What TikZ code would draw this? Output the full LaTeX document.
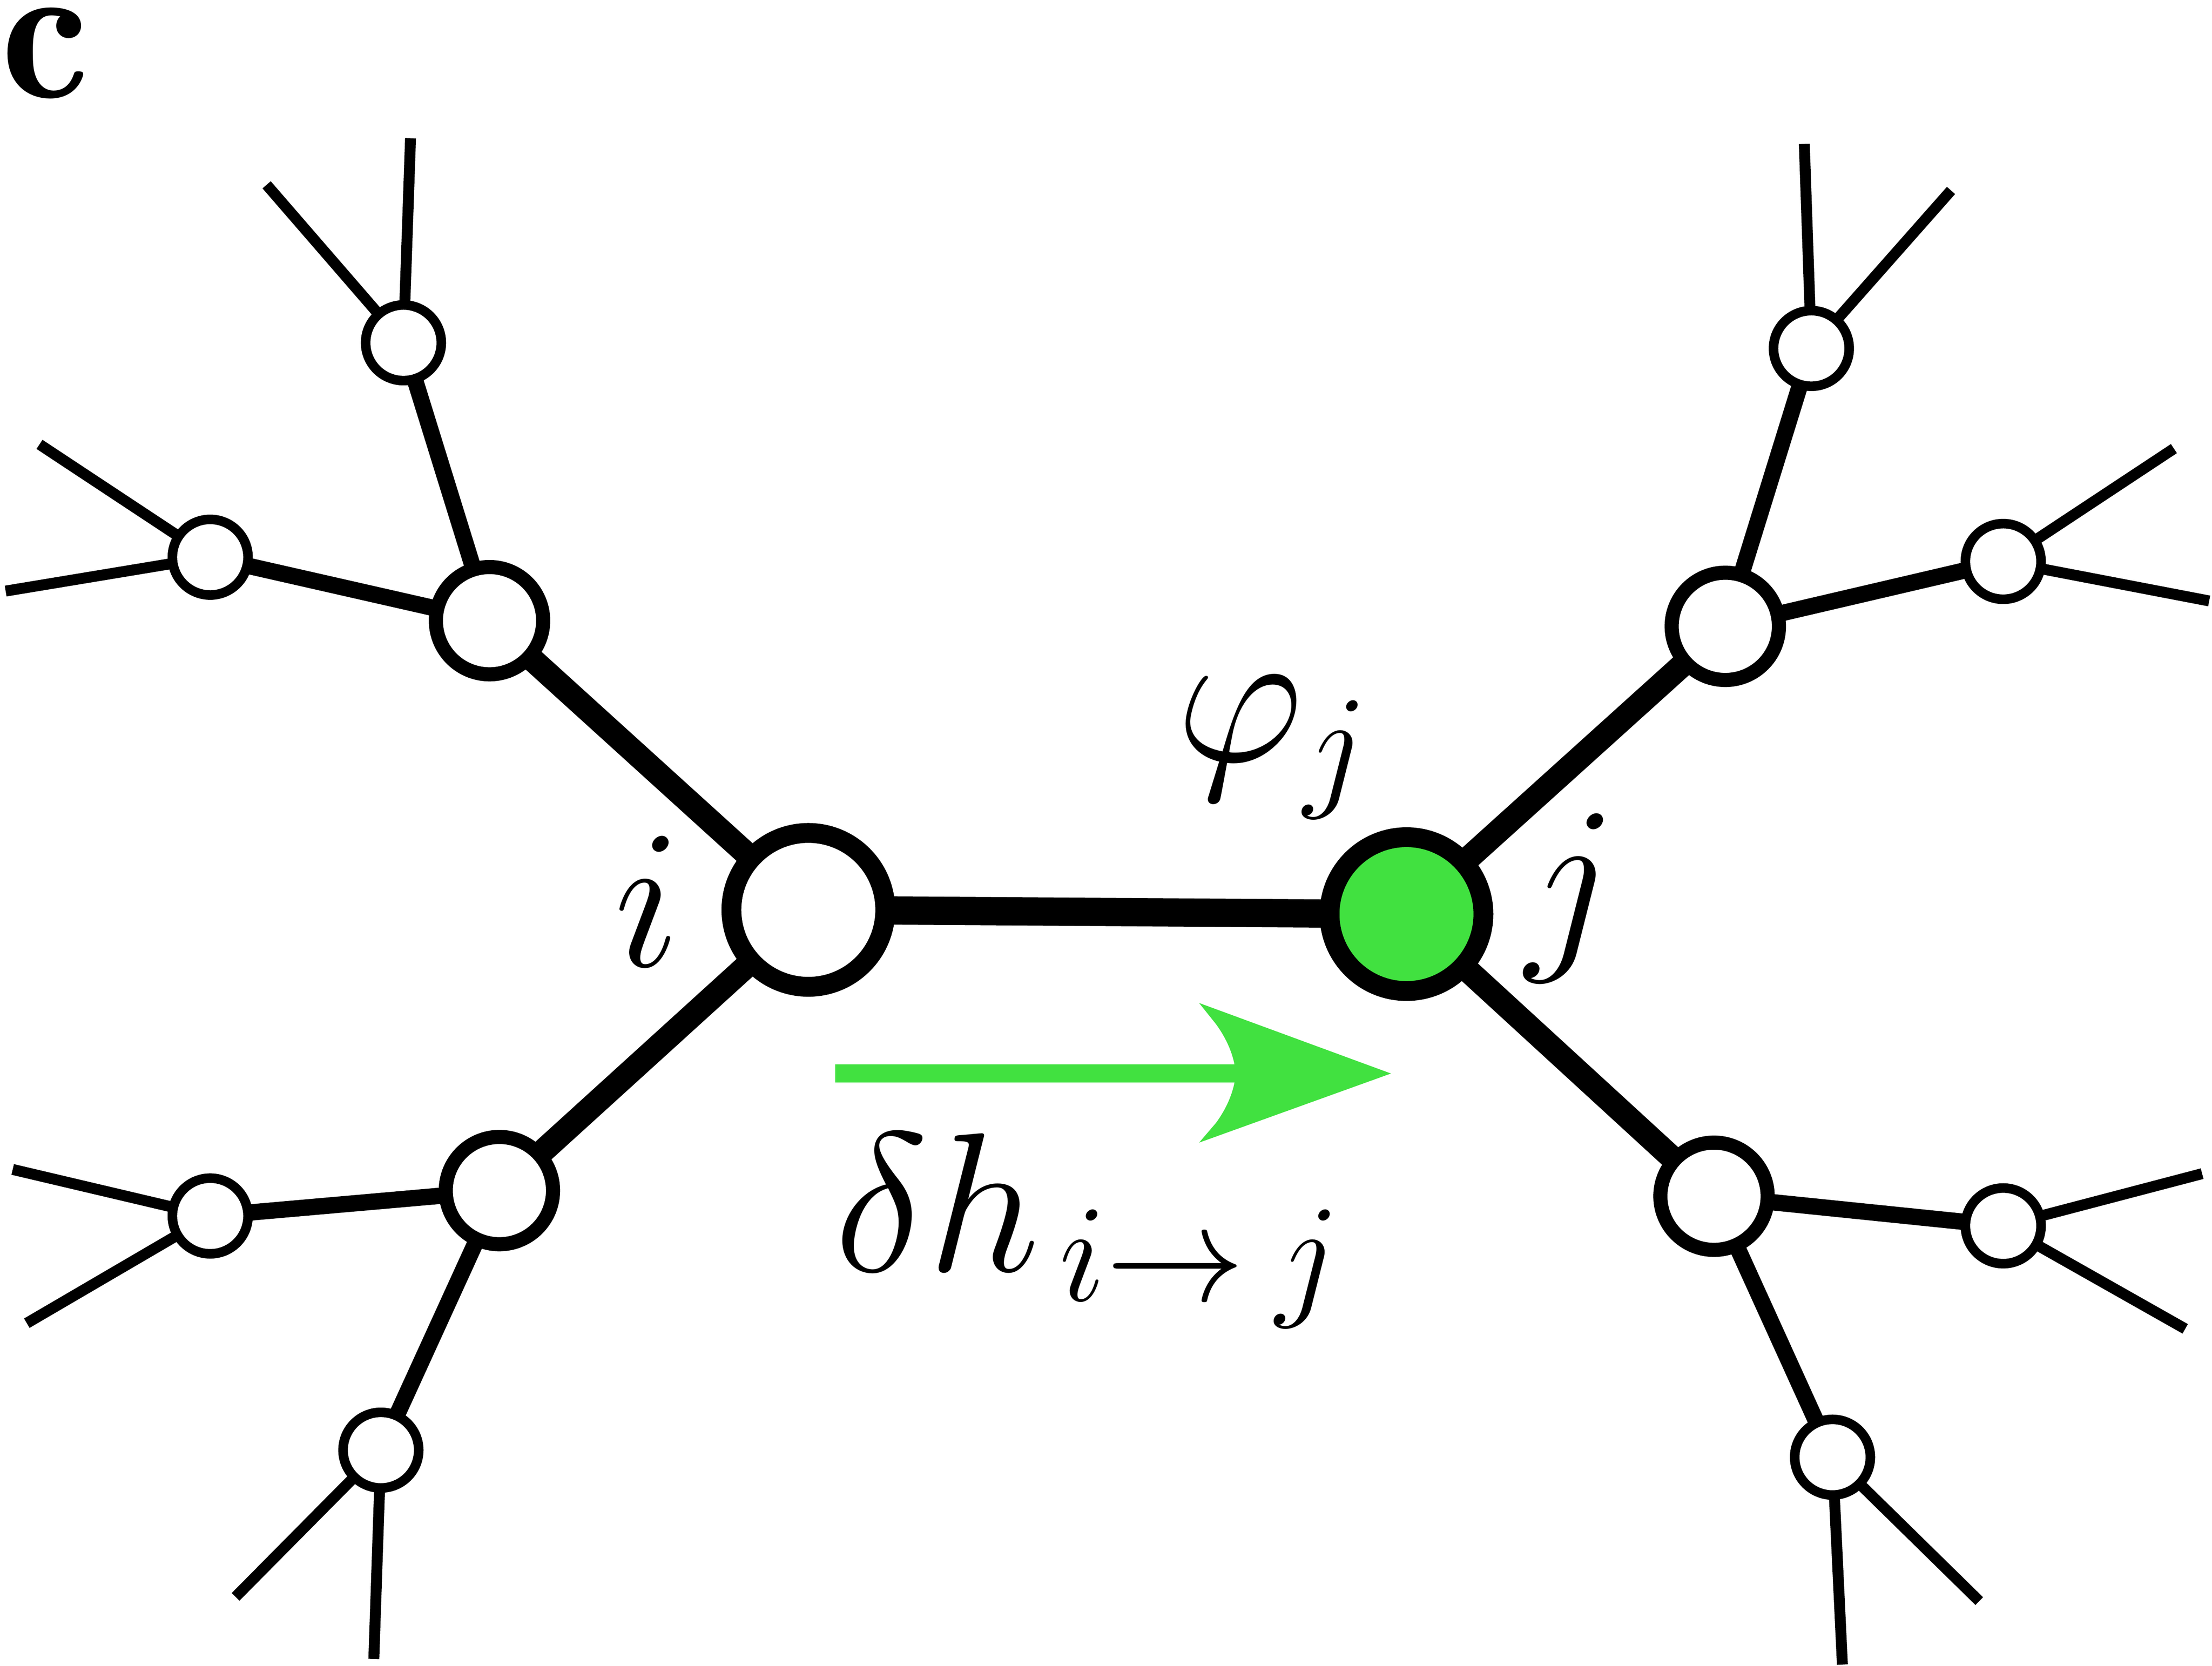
\RequirePackage{fix-cm}
\documentclass[tikz,border=0pt]{standalone}
\usetikzlibrary{backgrounds}

\definecolor{flowgreen}{RGB}{65,225,64}

\tikzset{
  site/.style={circle, draw, line width=4pt, fill=white, minimum size=1.09cm, inner sep=0pt},
  nbr/.style={circle, draw, line width=2.85pt, fill=white, minimum size=0.76cm, inner sep=0pt},
  farsite/.style={circle, draw, line width=1.93pt, fill=white, minimum size=0.536cm, inner sep=0pt},
  bond/.style={line width=5.7pt},
  branch/.style={line width=4.8pt},
  twig/.style={line width=3.3pt},
  leafline/.style={line width=2.2pt},
  lbl/.style={font=\fontsize{40}{48}\selectfont, inner sep=0pt},
}

\begin{document}
\begin{tikzpicture}[x=0.01cm, y=-0.01cm]
        \useasboundingbox (0,0) rectangle (1568,1181);

        \node[site] (i) at (573,645) {};
        \node[site, fill=flowgreen] (j) at (997,648) {};

        \node[nbr] (iu) at (347,440) {};
        \node[nbr] (id) at (354,844) {};
        \node[nbr] (ju) at (1223,444) {};
        \node[nbr] (jd) at (1215,848) {};

        \node[farsite] (iua) at (149,395) {};
        \node[farsite] (iub) at (286,243) {};
        \node[farsite] (ida) at (149,862) {};
        \node[farsite] (idb) at (270,1028) {};
        \node[farsite] (jua) at (1284,247) {};
        \node[farsite] (jub) at (1420,398) {};
        \node[farsite] (jda) at (1420,869) {};
        \node[farsite] (jdb) at (1299,1033) {};

        \coordinate (iua1) at (28,315);   \coordinate (iua2) at (4,419);
        \coordinate (iub1) at (189,131);  \coordinate (iub2) at (291,98);
        \coordinate (ida1) at (9,829);    \coordinate (ida2) at (19,938);
        \coordinate (idb1) at (167,1132); \coordinate (idb2) at (265,1176);
        \coordinate (jua1) at (1279,102); \coordinate (jua2) at (1383,135);
        \coordinate (jub1) at (1541,318); \coordinate (jub2) at (1566,426);
        \coordinate (jda1) at (1561,832); \coordinate (jda2) at (1549,942);
        \coordinate (jdb1) at (1306,1180); \coordinate (jdb2) at (1403,1135);

        \begin{scope}[on background layer]
            \draw[bond] (i.center) -- (j.center);
            \foreach \a/\b in {i/iu, i/id, j/ju, j/jd}
                \draw[branch] (\a.center) -- (\b.center);
            \foreach \a/\b in {iu/iua, iu/iub, id/ida, id/idb, ju/jua, ju/jub, jd/jda, jd/jdb}
                \draw[twig] (\a.center) -- (\b.center);
            \foreach \a in {iua, iub, ida, idb, jua, jub, jda, jdb}
                \draw[leafline] (\a1) -- (\a.center) -- (\a2);
        \end{scope}

        \coordinate (fs) at (592,761);
        \coordinate (fe) at (986,761);
        \draw[flowgreen, line width=3.7pt, shorten >=1.05cm] (fs) -- (fe);
        \fill[flowgreen, shift={(fe)}] (0,0) -- (-136,-50) -- (-124,-35)
            .. controls (-116,-24) and (-111,-12) .. (-110,0)
            .. controls (-111,12) and (-116,24) .. (-124,35) -- (-136,49) -- cycle;

        \node[lbl, anchor=base west] (panel) at (0,69)
            {\fontencoding{OT1}\fontfamily{cmr}\fontseries{b}\selectfont c};
        \node[lbl, anchor=base] (ilabel) at (459,685) {$i$};
        \node[lbl, anchor=base] (jlabel) at (1114,669) {$j$};
        \node[lbl, anchor=base west] (phij) at (833,540) {$\varphi_j$};
        \node[lbl, anchor=base west] (dh) at (591,901) {$\delta h_{\mkern2.5mu i\to\mkern4mu j}$};
\end{tikzpicture}
\end{document}
